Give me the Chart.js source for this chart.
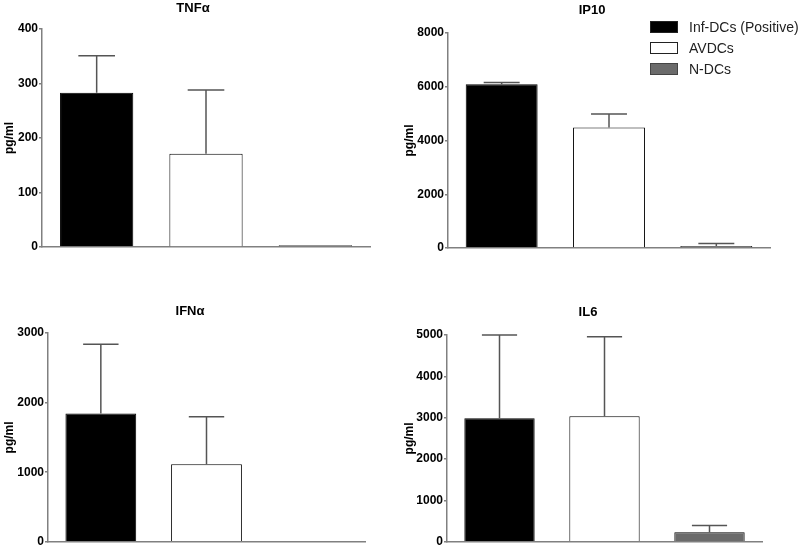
<!DOCTYPE html>
<html>
<head>
<meta charset="utf-8">
<script src="https://cdn.jsdelivr.net/npm/chart.js@4.4.1/dist/chart.umd.min.js"></script>
<style>
  html, body { margin: 0; padding: 0; background: #fff; }
  #wrap { position: relative; width: 800px; height: 550px; overflow: hidden; font-family: "Liberation Sans", Arial, sans-serif; }
  canvas { position: absolute; }
  .ttl { position: absolute; width: 120px; text-align: center; font: bold 13px "Liberation Sans", Arial, sans-serif; line-height: 16px; color: #000; }
  .leg { position: absolute; left: 650px; height: 20px; font: 14px "Liberation Sans", Arial, sans-serif; color: #222; }
  .sw { position: absolute; left: 0; top: 4px; width: 26px; height: 10px; border: 1px solid #222; }
  .lt { position: absolute; left: 39px; top: 0; line-height: 20px; white-space: nowrap; }
</style>
</head>
<body>
<div id="wrap">
  <canvas id="c1" width="400" height="275" style="left:0;top:0"></canvas>
  <canvas id="c2" width="400" height="275" style="left:400px;top:0"></canvas>
  <canvas id="c3" width="400" height="275" style="left:0;top:275px"></canvas>
  <canvas id="c4" width="400" height="275" style="left:400px;top:275px"></canvas>
  <div class="ttl" id="t1" style="left:133px;top:0px"></div>
  <div class="ttl" id="t2" style="left:532px;top:2px"></div>
  <div class="ttl" id="t3" style="left:130px;top:303px"></div>
  <div class="ttl" id="t4" style="left:528px;top:304px"></div>
  <div id="legend"></div>
</div>
<script>
// ---- data ----
const groups = ['Inf-DCs (Positive)', 'AVDCs', 'N-DCs'];
const groupColors = ['#000000', '#ffffff', '#6b6b6b'];
const titles = ['TNF\u03b1', 'IP10', 'IFN\u03b1', 'IL6'];
const yLabel = 'pg/ml';

const tnfMean = [283, 171, 3];
const tnfSD   = [68, 117, 0];
const ip10Mean = [6090, 4485, 75];
const ip10SD   = [70, 500, 90];
const ifnMean = [1845, 1115, 0];
const ifnSD   = [995, 680, 0];
const il6Mean = [2990, 3035, 230];
const il6SD   = [2010, 1920, 165];

const tnfTicks = [0, 400, 100];
const ip10Ticks = [0, 8000, 2000];
const ifnTicks = [0, 3000, 1000];
const il6Ticks = [0, 5000, 1000];

// ---- error bar plugin ----
const errorBars = {
  id: 'errorBars',
  afterDatasetsDraw(chart, args, opts) {
    const sds = opts.sd || [];
    const ctx = chart.ctx;
    const meta = chart.getDatasetMeta(0);
    const ys = chart.scales.y;
    const vals = chart.data.datasets[0].data;
    ctx.save();
    ctx.strokeStyle = '#555';
    ctx.lineWidth = 1.5;
    meta.data.forEach((bar, i) => {
      const sd = sds[i];
      if (!sd) return;
      const yTop = ys.getPixelForValue(vals[i] + sd);
      const yBar = ys.getPixelForValue(vals[i]);
      const half = bar.width / 4;
      ctx.beginPath();
      ctx.moveTo(bar.x, yBar);
      ctx.lineTo(bar.x, yTop);
      ctx.moveTo(bar.x - half, yTop);
      ctx.lineTo(bar.x + half, yTop);
      ctx.stroke();
    });
    ctx.restore();
  }
};

const font = '"Liberation Sans", Arial, sans-serif';

function makeChart(id, means, sds, ticks, g) {
  return new Chart(document.getElementById(id), {
    type: 'bar',
    data: {
      labels: groups,
      datasets: [{
        data: means,
        backgroundColor: groupColors,
        borderColor: '#000',
        borderWidth: 1,
        barPercentage: 0.67,
        categoryPercentage: 1.0
      }]
    },
    options: {
      responsive: false,
      animation: false,
      devicePixelRatio: 1,
      layout: { padding: { top: g.top, left: 0, right: 400 - g.right, bottom: 275 - g.bottom }, autoPadding: false },
      plugins: {
        legend: { display: false },
        title: { display: false },
        tooltip: { enabled: false },
        errorBars: { sd: sds }
      },
      scales: {
        x: {
          ticks: { display: false },
          grid: { display: false },
          border: { display: true, color: '#808080', width: 1.5 },
          afterFit(s) { s.height = 0; }
        },
        y: {
          min: ticks[0], max: ticks[1],
          ticks: { stepSize: ticks[2], color: '#000', font: { family: font, size: 12, weight: 'bold' }, padding: 1, callback: v => String(v) },
          grid: { drawOnChartArea: false, drawTicks: true, tickLength: 3, color: '#808080', lineWidth: 1.5 },
          border: { display: true, color: '#808080', width: 1.5 },
          title: { display: true, text: yLabel, color: '#000', font: { family: font, size: 12, weight: 'bold' }, padding: { top: 2, bottom: 0 } },
          afterFit(s) { s.width = g.axisX; }
        }
      }
    },
    plugins: [errorBars]
  });
}

makeChart('c1', tnfMean, tnfSD, tnfTicks, { axisX: 42, top: 29, bottom: 247, right: 370 });
makeChart('c2', ip10Mean, ip10SD, ip10Ticks, { axisX: 48, top: 33, bottom: 248, right: 370 });
makeChart('c3', ifnMean, ifnSD, ifnTicks, { axisX: 48, top: 58, bottom: 271, right: 365 });
makeChart('c4', il6Mean, il6SD, il6Ticks, { axisX: 47, top: 60, bottom: 271, right: 362 });

['t1', 't2', 't3', 't4'].forEach((id, i) => { document.getElementById(id).textContent = titles[i]; });

// legend
const legendTops = [17, 38, 59];
const legend = document.getElementById('legend');
groups.forEach((name, i) => {
  const row = document.createElement('div');
  row.className = 'leg';
  row.style.top = legendTops[i] + 'px';
  const sw = document.createElement('div');
  sw.className = 'sw';
  sw.style.background = groupColors[i];
  if (i === 2) sw.style.borderColor = '#444';
  const t = document.createElement('div');
  t.className = 'lt';
  t.textContent = name;
  row.appendChild(sw); row.appendChild(t);
  legend.appendChild(row);
});
</script>
</body>
</html>
